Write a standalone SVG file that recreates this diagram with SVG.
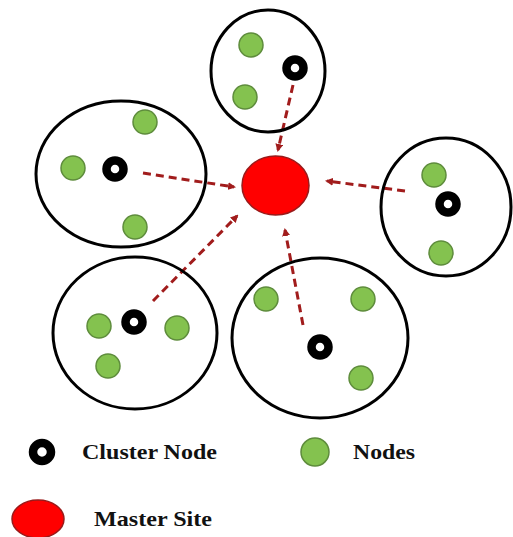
<svg xmlns="http://www.w3.org/2000/svg" width="513" height="537" viewBox="0 0 513 537">
  <style>
    .cluster { fill: none; stroke: #000; stroke-width: 3; }
    .node { fill: #84c24f; stroke: #5e8c3c; stroke-width: 1.5; }
    .head { fill: #fff; stroke: #000; stroke-width: 8.5; }
    .master { fill: #ff0000; stroke: #9a1a1a; stroke-width: 1.5; }
    .link { fill: none; stroke: #a11c1c; stroke-width: 3; stroke-dasharray: 8 5; }
    .label { font-family: "Liberation Serif", "Times New Roman", serif; font-weight: bold; font-size: 21px; fill: #111; }
  </style>
  <defs>
    <marker id="arrow" markerWidth="8" markerHeight="8" refX="6" refY="4" orient="auto" markerUnits="userSpaceOnUse">
      <path d="M0,0 L8,4 L0,8 Z" fill="#a11c1c"/>
    </marker>
  </defs>
  <rect width="513" height="537" fill="#fff"/>

  <!-- connectors: cluster heads to the master site -->
  <g id="connectors">
    <line class="link" x1="293" y1="85" x2="278" y2="150" marker-end="url(#arrow)"/>
    <line class="link" x1="143" y1="173" x2="234" y2="187" marker-end="url(#arrow)"/>
    <line class="link" x1="153" y1="301" x2="237" y2="216" marker-end="url(#arrow)"/>
    <line class="link" x1="405" y1="191" x2="327" y2="181" marker-end="url(#arrow)"/>
    <line class="link" x1="303" y1="325" x2="285" y2="230" marker-end="url(#arrow)"/>
  </g>

  <g id="cluster-top">
    <ellipse class="cluster" cx="268" cy="71" rx="57" ry="61"/>
    <circle class="node" cx="251" cy="45" r="12"/>
    <circle class="node" cx="245" cy="97" r="12"/>
    <circle class="head" cx="295" cy="68" r="8.5"/>
  </g>

  <g id="cluster-left">
    <ellipse class="cluster" cx="121" cy="174" rx="85" ry="73"/>
    <circle class="node" cx="145" cy="122" r="12"/>
    <circle class="node" cx="73" cy="168" r="12"/>
    <circle class="node" cx="135" cy="227" r="12"/>
    <circle class="head" cx="115" cy="169" r="8.5"/>
  </g>

  <g id="cluster-right">
    <ellipse class="cluster" cx="446" cy="207" rx="65" ry="69"/>
    <circle class="node" cx="434" cy="175" r="12"/>
    <circle class="node" cx="441" cy="253" r="12"/>
    <circle class="head" cx="448" cy="204" r="8.5"/>
  </g>

  <g id="cluster-lower-left">
    <ellipse class="cluster" cx="135" cy="333" rx="82" ry="76"/>
    <circle class="node" cx="99" cy="326" r="12"/>
    <circle class="node" cx="177" cy="328" r="12"/>
    <circle class="node" cx="108" cy="366" r="12"/>
    <circle class="head" cx="134" cy="322" r="8.5"/>
  </g>

  <g id="cluster-lower-right">
    <ellipse class="cluster" cx="320" cy="338" rx="88" ry="80"/>
    <circle class="node" cx="266" cy="299" r="12"/>
    <circle class="node" cx="363" cy="299" r="12"/>
    <circle class="node" cx="361" cy="378" r="12"/>
    <circle class="head" cx="320" cy="347" r="8.5"/>
  </g>

  <g id="master-site">
    <ellipse class="master" cx="275.5" cy="185.5" rx="33.5" ry="29.5"/>
  </g>

  <!-- legend -->
  <g id="legend-cluster-node">
    <circle class="head" cx="42" cy="452" r="9"/>
    <text class="label" x="82" y="459" textLength="135" lengthAdjust="spacingAndGlyphs">Cluster Node</text>
  </g>
  <g id="legend-nodes">
    <circle class="node" cx="315" cy="452" r="14"/>
    <text class="label" x="353" y="459" textLength="62" lengthAdjust="spacingAndGlyphs">Nodes</text>
  </g>
  <g id="legend-master-site">
    <ellipse class="master" cx="38" cy="519" rx="26" ry="19"/>
    <text class="label" x="94" y="526" textLength="118" lengthAdjust="spacingAndGlyphs">Master Site</text>
  </g>
</svg>
